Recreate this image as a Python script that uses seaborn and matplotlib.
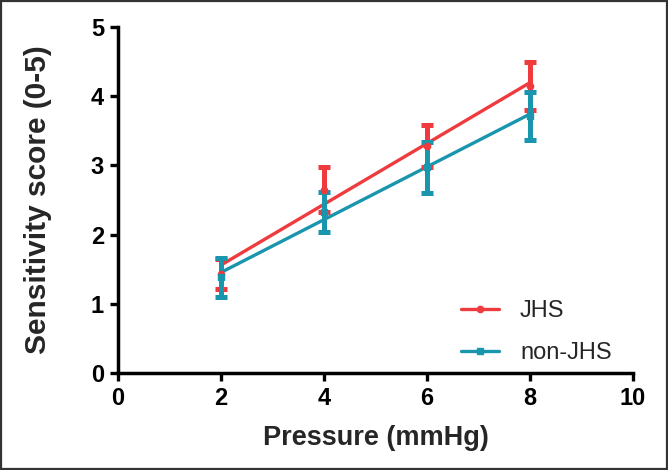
import numpy as np
import pandas as pd
import matplotlib
matplotlib.use("Agg")
import matplotlib.pyplot as plt
import seaborn as sns
from matplotlib.lines import Line2D
from matplotlib.patches import Rectangle

# Data (mean +/- error per pressure level)
pressure = [2, 4, 6, 8]
jhs_mean = [1.43, 2.65, 3.28, 4.15]
jhs_err = [0.21, 0.32, 0.30, 0.35]
non_mean = [1.38, 2.33, 2.97, 3.71]
non_err = [0.28, 0.29, 0.37, 0.35]

x_ticks = [0, 2, 4, 6, 8, 10]
y_ticks = [0, 1, 2, 3, 4, 5]

red = "#EF3B3E"
teal = "#1A95AE"

df = pd.DataFrame({"pressure": pressure, "JHS": jhs_mean, "non-JHS": non_mean})

sns.set_style("ticks")
plt.rcParams["font.family"] = ["Liberation Sans", "DejaVu Sans"]

fig = plt.figure(figsize=(6.68, 4.70), dpi=100)
ax = fig.add_axes([0.1766, 0.2064, 0.7710, 0.7362])

# Linear fits through the means
sns.regplot(data=df, x="pressure", y="JHS", scatter=False, ci=None, truncate=True,
            color=red, line_kws=dict(lw=2.4), ax=ax)
sns.regplot(data=df, x="pressure", y="non-JHS", scatter=False, ci=None, truncate=True,
            color=teal, line_kws=dict(lw=2.4), ax=ax)

# Error bars with mean markers
for mean, err, col, mk in [(jhs_mean, jhs_err, red, "o"), (non_mean, non_err, teal, "s")]:
    eb = ax.errorbar(pressure, mean, yerr=err, fmt=mk, ms=4.5, color=col,
                     elinewidth=3.6, capsize=4, capthick=3.6, zorder=3)
    for lc in eb[2]:
        lc.set_capstyle("round")

ax.set_xlim(0, 10)
ax.set_ylim(0, 5)
ax.set_xticks(x_ticks)
ax.set_yticks(y_ticks)
ax.set_xticklabels([str(t) for t in x_ticks], fontweight="bold", fontsize=17)
ax.set_yticklabels([str(t) for t in y_ticks], fontweight="bold", fontsize=17)
ax.tick_params(width=2.4, length=6, colors="black", pad=4)
for s in ["left", "bottom"]:
    ax.spines[s].set_linewidth(2.5)
    ax.spines[s].set_color("black")
sns.despine(ax=ax)

ax.set_xlabel("Pressure (mmHg)", fontsize=19.5, fontweight="bold", labelpad=11)
ax.set_ylabel("Sensitivity score (0-5)", fontsize=21.5, fontweight="bold", labelpad=28)

handles = [
    Line2D([], [], color=red, lw=2.4, marker="o", ms=4.5),
    Line2D([], [], color=teal, lw=2.4, marker="s", ms=4.5),
]
ax.legend(handles, ["JHS", "non-JHS"], loc="lower right", bbox_to_anchor=(1.0, -0.035),
          frameon=False, fontsize=17, handlelength=1.6, handletextpad=0.9,
          labelspacing=0.85)

fig.patches.append(Rectangle((0.002, 0.003), 0.996, 0.994, transform=fig.transFigure,
                             fill=False, lw=1.6, ec="#333333"))

fig.savefig("out.png", dpi=100)
